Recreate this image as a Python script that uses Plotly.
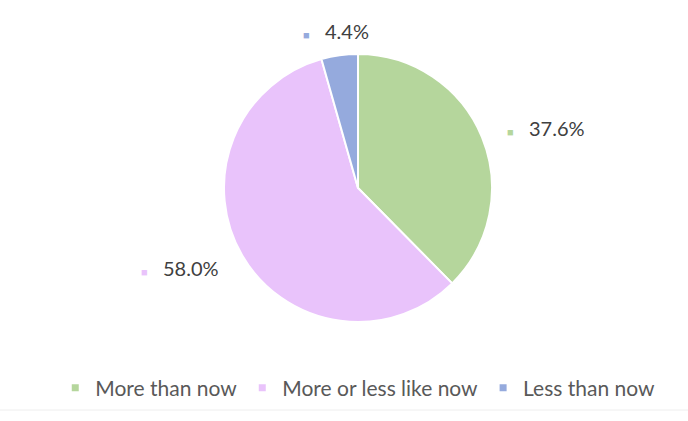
import math
import plotly.graph_objects as go

categories = ["More than now", "More or less like now", "Less than now"]
values = [37.6, 58.0, 4.4]
colors = ["#b5d69c", "#e9c3fb", "#95aadd"]

W, H = 688, 421
cx, cy, r = 358, 188, 134   # pie centre and radius in pixels
label_gap = 25              # distance of data labels beyond the rim

fig = go.Figure()

fig.add_trace(
    go.Pie(
        labels=categories,
        values=values,
        textinfo="none",
        sort=False,
        direction="clockwise",
        rotation=0,
        showlegend=False,
        marker=dict(colors=colors, line=dict(color="white", width=2)),
        domain=dict(
            x=[(cx - r) / W, (cx + r) / W],
            y=[(H - cy - r) / H, (H - cy + r) / H],
        ),
        hoverinfo="label+percent",
    )
)

# Legend entries with small square swatches
for name, c in zip(categories, colors):
    fig.add_trace(
        go.Scatter(
            x=[None], y=[None], mode="markers", name=name,
            marker=dict(symbol="square", size=7, color=c),
        )
    )

# Data labels placed just outside each slice, along its bisector
total = sum(values)
cum = 0.0
annotations = []
for v, c in zip(values, colors):
    mid = (cum + v / 2) / total * 2 * math.pi
    cum += v
    dx, dy = math.sin(mid), -math.cos(mid)
    px = cx + dx * (r + label_gap)
    py = cy + dy * (r + label_gap)
    if dx > 0.25:
        xa = "left"
    elif dx < -0.25:
        xa = "right"
    else:
        xa = "center"
    annotations.append(
        dict(
            x=px / W, y=1 - py / H, xref="paper", yref="paper",
            xanchor=xa, yanchor="middle", showarrow=False,
            text=f"<span style='color:{c};font-size:11px'>■</span>   {v:.1f}%",
            font=dict(family="Lato", size=20, color="#404040"),
        )
    )

fig.update_layout(
    width=W,
    height=H,
    margin=dict(l=0, r=0, t=0, b=0),
    paper_bgcolor="white",
    plot_bgcolor="white",
    xaxis=dict(visible=False),
    yaxis=dict(visible=False),
    annotations=annotations,
    showlegend=True,
    legend=dict(
        orientation="h",
        x=0.52,
        xanchor="center",
        y=0.078,
        yanchor="middle",
        font=dict(family="Lato", size=21, color="#595959"),
        itemwidth=30,
        itemsizing="trace",
        traceorder="normal",
    ),
    shapes=[
        dict(
            type="line", xref="paper", yref="paper",
            x0=0, x1=1, y0=1 - 410 / H, y1=1 - 410 / H,
            line=dict(color="#eeeeee", width=1),
        )
    ],
)

fig.write_html("out.html")
